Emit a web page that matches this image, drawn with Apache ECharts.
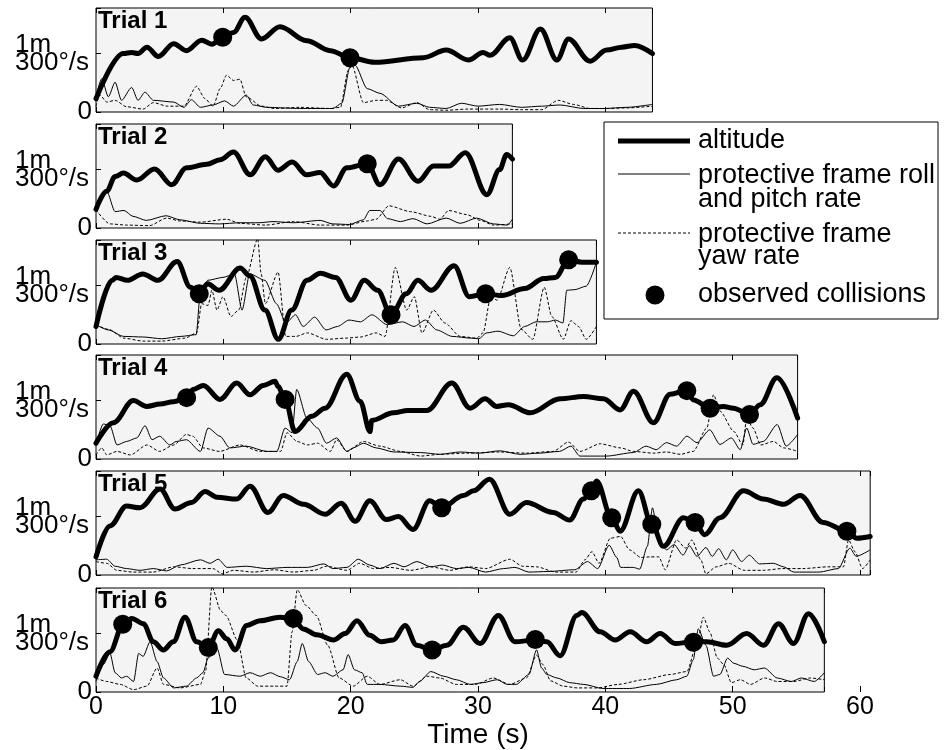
<!DOCTYPE html>
<html>
<head>
<meta charset="utf-8">
<script src="https://cdn.jsdelivr.net/npm/echarts@6/dist/echarts.min.js"></script>
<style>html,body{margin:0;padding:0;background:#fff}#chart{width:948px;height:750px}</style>
</head>
<body>
<div id="chart"></div>
<script>
// ---- data (time in s; altitude in m; rates in units of 300°/s) ----
const trialNames = ['Trial 1', 'Trial 2', 'Trial 3', 'Trial 4', 'Trial 5', 'Trial 6'];
const trialDurations = [43.7, 32.7, 39.3, 55.1, 60.8, 57.2];
const yTickLabels = ['0', '1m', '300°/s'];
const xAxisName = 'Time (s)';
const legendLabels = ['altitude', 'protective frame roll', 'and pitch rate', 'protective frame', 'yaw rate', 'observed collisions'];

const t1Altitude = [[0,0.23],[2.15,1.0],[2.8,1.02],[3.3,1.0],[4.0,1.11],[4.9,0.95],[6.1,1.17],[7.1,1.05],[8.3,1.23],[9.1,1.16],[9.95,1.28],[10.8,1.36],[11.7,1.62],[13.0,1.25],[14.45,1.46],[16.55,1.22],[18.4,1.05],[19.95,0.93],[21.9,0.85],[25.7,0.93],[27.5,1.06],[29.25,0.89],[30.4,1.02],[30.95,0.97],[32.5,1.27],[33.5,0.89],[34.9,1.42],[36.2,0.89],[37.1,1.25],[38.8,0.87],[40.1,1.06],[41.3,1.11],[42.3,1.14],[43.7,1.0]];
const t1Roll = [[0,0.26],[0.45,0.57],[0.97,0.26],[1.5,0.51],[2.0,0.2],[2.8,0.42],[3.3,0.2],[3.85,0.34],[4.5,0.2],[6.1,0.17],[6.9,0.08],[7.5,0.21],[8.2,0.08],[9.2,0.12],[10.1,0.19],[10.8,0.1],[11.8,0.29],[12.35,0.12],[13.4,0.08],[16.0,0.06],[18.6,0.06],[19.3,0.15],[19.95,0.77],[20.35,0.8],[21.3,0.4],[22.3,0.32],[23.75,0.1],[25.2,0.15],[26.2,0.08],[27.5,0.06],[28.7,0.15],[30.0,0.1],[31.7,0.13],[33.4,0.08],[35.0,0.1],[36.45,0.12],[38.3,0.06],[39.9,0.06],[41.7,0.08],[43.7,0.13]];
const t1Yaw = [[0,0.1],[0.3,0.29],[0.85,0.17],[1.5,0.2],[2.4,0.09],[3.7,0.05],[4.5,0.16],[5.6,0.1],[6.9,0.1],[7.9,0.44],[8.55,0.23],[9.2,0.1],[9.75,0.4],[10.25,0.63],[10.8,0.54],[11.3,0.56],[11.8,0.26],[13.0,0.1],[14.0,0.06],[16.0,0.08],[18.4,0.06],[19.2,0.08],[19.8,0.71],[20.1,0.8],[21.0,0.16],[22.0,0.2],[22.8,0.2],[24.0,0.07],[25.2,0.16],[26.2,0.04],[27.5,0.03],[29.2,0.05],[31.7,0.05],[33.4,0.04],[35.0,0.04],[36.3,0.2],[37.5,0.13],[38.8,0.06],[40.1,0.06],[41.7,0.07],[43.7,0.1]];
const t1Collisions = [[9.95,1.28],[19.95,0.93]];

const t2Altitude = [[0,0.32],[0.84,0.63],[1.5,0.88],[2.15,0.94],[3.2,0.82],[4.6,1.01],[5.95,0.74],[7.1,1.03],[8.7,1.09],[9.75,1.17],[10.8,1.3],[12.1,0.91],[13.3,1.22],[14.3,0.99],[15.4,1.13],[16.55,0.91],[17.6,0.95],[18.65,0.72],[19.7,1.03],[21.3,1.1],[22.3,0.74],[23.75,1.18],[25.3,0.8],[26.5,1.06],[27.7,1.06],[29.0,1.29],[30.7,0.57],[31.7,1.0],[32.25,1.26],[32.7,1.18]];
const t2Roll = [[0,0.34],[0.84,0.63],[1.5,0.28],[2.2,0.3],[2.9,0.2],[3.95,0.13],[5.5,0.21],[6.6,0.14],[8.2,0.08],[9.7,0.07],[11.3,0.09],[12.8,0.09],[13.9,0.11],[15.5,0.09],[17.6,0.13],[18.6,0.07],[19.9,0.06],[21.0,0.14],[21.5,0.3],[22.3,0.3],[22.9,0.16],[23.9,0.11],[24.9,0.16],[26.0,0.07],[27.5,0.17],[28.6,0.08],[29.9,0.17],[31.2,0.07],[32.3,0.05],[32.7,0.15]];
const t2Yaw = [[0,0.31],[1.1,0.07],[2.4,0.05],[4.2,0.04],[5.55,0.17],[6.6,0.12],[8.2,0.1],[10.25,0.15],[11.3,0.08],[13.3,0.05],[15.5,0.11],[17.6,0.05],[19.7,0.05],[21.3,0.12],[22.0,0.15],[23.0,0.38],[24.7,0.28],[26.3,0.2],[27.0,0.15],[27.7,0.3],[29.1,0.23],[30.2,0.13],[31.2,0.05],[32.7,0.07]];
const t2Collisions = [[21.3,1.1]];

const t3Altitude = [[0,0.3],[1.27,1.09],[1.58,1.14],[2.47,1.09],[3.67,1.2],[4.87,1.09],[6.37,1.41],[7.42,0.97],[8.11,0.86],[8.77,1.03],[9.67,0.92],[11.32,1.3],[12.07,1.17],[13.27,0.58],[14.32,0.08],[15.37,0.58],[16.57,1.09],[17.62,1.21],[18.82,1.14],[20.02,0.75],[21.07,1.09],[22.12,0.92],[23.17,0.5],[24.37,0.86],[25.27,1.09],[26.32,0.92],[28.12,1.34],[29.32,0.81],[30.6,0.86],[31.87,0.83],[33.67,0.95],[35.17,1.12],[36.07,1.14],[37.12,1.44],[38.17,1.4],[39.3,1.4]];
const t3Roll = [[0,0.33],[0.98,0.24],[2.18,0.13],[3.67,0.12],[5.17,0.09],[6.67,0.13],[7.87,0.16],[8.17,0.81],[8.77,1.09],[9.97,1.14],[10.87,1.2],[11.47,0.58],[12.07,1.2],[13.27,1.09],[14.17,0.69],[14.92,0.36],[15.67,0.5],[16.27,0.3],[17.17,0.46],[18.07,0.24],[18.97,0.3],[19.87,0.41],[20.77,0.38],[21.67,0.5],[22.87,0.33],[24.07,0.38],[24.97,0.3],[25.87,0.41],[26.77,0.24],[27.97,0.13],[29.47,0.1],[30.07,0.09],[30.67,0.19],[31.57,0.22],[32.77,0.14],[33.67,0.3],[34.57,0.38],[35.47,0.38],[36.07,0.41],[36.67,0.36],[36.97,0.92],[37.6,0.93],[38.5,0.99],[39.3,1.4]];
const t3Yaw = [[0,0.33],[1.0,0.25],[2.2,0.1],[3.7,0.05],[5.2,0.05],[7.0,0.1],[7.9,0.19],[8.3,0.69],[8.8,0.66],[9.1,0.92],[9.5,0.58],[9.97,0.81],[10.6,0.47],[11.2,0.58],[11.8,1.14],[12.7,1.8],[12.97,1.2],[13.3,0.69],[14.3,1.23],[14.9,0.13],[15.7,0.13],[16.6,0.19],[18.1,0.08],[19.6,0.1],[20.8,0.12],[22.0,0.19],[22.7,0.13],[23.5,1.31],[24.4,0.58],[25.0,0.81],[25.6,0.19],[26.5,0.58],[27.4,0.36],[28.6,0.13],[29.9,0.1],[30.4,0.19],[31.0,0.81],[31.5,0.75],[32.5,1.31],[33.4,0.25],[34.3,0.08],[35.2,0.97],[35.8,0.47],[36.7,0.08],[37.3,0.4],[37.9,0.3],[38.5,0.08],[39.3,0.3]];
const t3Collisions = [[8.11,0.86],[23.17,0.5],[30.6,0.86],[37.12,1.44]];

const t4Altitude = [[0,0.27],[1.36,0.62],[2.93,1.0],[3.98,0.9],[5.03,0.94],[6.07,0.98],[7.12,1.05],[7.64,1.19],[8.43,1.26],[9.74,1.02],[11.05,1.3],[12.1,1.1],[13.14,1.26],[14.06,1.33],[14.3,1.24],[14.85,1.02],[15.63,0.47],[16.94,0.73],[17.99,0.87],[19.69,1.45],[20.74,0.99],[21.52,0.47],[21.65,0.66],[23.36,0.79],[24.5,0.83],[25.98,0.83],[27.94,1.3],[29.38,0.87],[30.56,1.03],[31.47,0.9],[32.39,0.93],[34.1,0.79],[36.45,1.03],[38.28,1.07],[39.85,1.03],[41.16,0.84],[42.21,1.16],[43.78,0.62],[45.09,1.11],[46.4,1.17],[46.92,1.01],[48.23,0.87],[49.28,0.9],[50.06,0.87],[51.32,0.76],[52.16,0.93],[53.47,1.39],[55.1,0.7]];
const t4Roll = [[0,0.24],[0.57,0.6],[1.1,0.57],[1.65,0.24],[2.4,0.3],[3.2,0.36],[3.85,0.57],[4.4,0.33],[5.0,0.39],[5.8,0.24],[6.3,0.3],[7.1,0.33],[8.2,0.13],[8.8,0.53],[9.74,0.39],[10.5,0.19],[11.8,0.22],[13.4,0.13],[14.2,0.13],[14.85,0.53],[15.4,0.45],[15.76,1.19],[16.56,0.7],[17.4,0.53],[18.1,0.27],[18.9,0.36],[19.7,0.13],[20.2,0.19],[21.0,0.27],[22.0,0.19],[23.4,0.12],[25.5,0.11],[27.0,0.08],[28.6,0.12],[30.1,0.1],[31.7,0.14],[33.3,0.08],[34.8,0.1],[36.4,0.13],[37.3,0.22],[38.0,0.05],[40.1,0.05],[42.2,0.11],[43.2,0.22],[44.0,0.16],[44.8,0.28],[45.6,0.22],[46.4,0.39],[47.2,0.28],[48.2,0.5],[49.0,0.25],[49.9,0.36],[50.6,0.16],[51.1,0.53],[51.6,0.25],[52.4,0.3],[53.5,0.59],[54.2,0.22],[55.1,0.42]];
const t4Yaw = [[0,0.07],[0.45,0.19],[0.85,0.07],[1.65,0.13],[2.7,0.07],[4.0,0.24],[5.0,0.13],[6.1,0.24],[7.1,0.42],[7.6,0.39],[8.4,0.19],[9.7,0.13],[11.3,0.24],[12.9,0.13],[14.5,0.13],[15.0,0.45],[15.8,0.3],[16.6,0.24],[17.4,0.27],[18.4,0.13],[18.9,0.33],[19.7,0.13],[21.0,0.3],[22.3,0.22],[23.9,0.13],[25.5,0.05],[27.0,0.08],[29.1,0.1],[31.7,0.12],[33.8,0.1],[35.9,0.13],[37.1,0.29],[38.0,0.13],[39.6,0.26],[41.2,0.19],[42.2,0.13],[43.8,0.1],[44.8,0.12],[45.9,0.08],[46.9,0.13],[47.97,0.53],[48.5,1.1],[49.0,0.82],[50.1,0.47],[50.8,0.24],[51.1,0.7],[51.6,0.53],[52.2,0.24],[53.2,0.3],[54.0,0.19],[55.1,0.13]];
const t4Collisions = [[7.12,1.05],[14.85,1.02],[46.4,1.17],[48.23,0.87],[51.32,0.76]];

const t5Altitude = [[0,0.31],[1.1,0.84],[2.4,1.18],[3.45,1.15],[5.03,1.47],[6.2,1.13],[7.5,1.24],[8.56,1.43],[9.5,1.33],[11.05,1.3],[12.1,1.52],[13.5,1.07],[14.7,1.36],[16.3,1.21],[18.0,1.04],[19.25,1.23],[20.35,0.92],[21.5,1.27],[22.8,0.95],[23.75,1.0],[24.9,0.78],[26.2,1.27],[27.15,1.15],[28.85,1.36],[29.64,1.44],[30.9,1.64],[32.5,1.04],[33.8,1.24],[35.9,1.07],[37.2,0.94],[38.28,1.3],[38.9,1.44],[39.3,1.61],[40.5,0.98],[41.16,0.75],[42.6,1.44],[43.65,0.87],[44.56,0.49],[46.14,0.98],[47.05,0.9],[47.8,0.69],[49.0,0.98],[50.85,1.44],[52.4,1.3],[54.0,1.21],[55.3,1.36],[57.1,0.9],[58.97,0.75],[59.75,0.63],[60.8,0.66]];
const t5Roll = [[0,0.26],[0.84,0.27],[1.5,0.15],[2.4,0.11],[3.45,0.08],[4.5,0.11],[5.55,0.07],[6.6,0.17],[8.2,0.26],[8.95,0.2],[9.6,0.27],[10.3,0.13],[11.8,0.15],[13.4,0.11],[15.0,0.13],[16.6,0.13],[17.9,0.19],[18.6,0.11],[19.7,0.13],[20.6,0.27],[21.5,0.17],[22.3,0.11],[23.4,0.2],[24.2,0.14],[25.2,0.23],[26.3,0.14],[27.2,0.17],[28.3,0.11],[29.3,0.13],[30.6,0.05],[32.0,0.11],[32.9,0.13],[34.0,0.05],[35.5,0.06],[37.6,0.09],[38.6,0.23],[39.4,0.11],[40.3,0.51],[40.9,0.3],[41.2,0.13],[42.2,0.13],[42.7,0.1],[43.3,0.49],[43.7,1.15],[44.2,0.6],[44.8,0.43],[45.4,0.52],[46.1,0.34],[46.6,0.5],[47.2,0.32],[47.9,0.47],[48.4,0.32],[48.9,0.45],[49.5,0.26],[50.0,0.43],[50.7,0.23],[51.3,0.34],[52.1,0.19],[53.2,0.2],[54.0,0.14],[54.8,0.05],[56.8,0.05],[58.3,0.11],[59.2,0.46],[59.7,0.32],[60.8,0.43]];
const t5Yaw = [[0,0.23],[0.84,0.2],[1.65,0.08],[2.9,0.05],[4.5,0.05],[6.1,0.14],[7.6,0.11],[9.2,0.11],[9.9,0.02],[10.8,0.08],[12.4,0.05],[14.0,0.09],[15.5,0.05],[17.1,0.08],[18.1,0.15],[19.7,0.08],[20.7,0.2],[21.8,0.11],[23.1,0.13],[24.7,0.08],[26.3,0.14],[27.8,0.08],[29.3,0.14],[30.6,0.11],[32.5,0.27],[33.5,0.15],[34.6,0.14],[36.1,0.05],[37.7,0.05],[38.4,0.26],[38.95,0.4],[39.5,0.2],[40.4,0.63],[41.2,0.66],[41.9,0.43],[42.8,0.3],[43.5,0.31],[44.2,0.31],[44.7,0.09],[45.6,0.6],[46.3,0.46],[46.8,0.6],[47.5,0.26],[47.9,0.02],[48.7,0.14],[49.7,0.2],[50.9,0.08],[52.4,0.08],[53.9,0.11],[55.5,0.11],[57.5,0.14],[58.7,0.14],[59.1,0.6],[59.6,0.4],[60.2,0.11],[60.8,0.26]];
const t5Collisions = [[27.15,1.15],[38.9,1.44],[40.5,0.98],[43.65,0.87],[47.05,0.9],[58.97,0.75]];

const t6Altitude = [[0,0.27],[1.1,0.69],[2.1,1.14],[2.8,1.26],[3.72,1.17],[4.5,0.86],[5.29,0.72],[6.07,0.86],[6.99,1.28],[7.91,0.86],[8.82,0.76],[9.61,1.05],[10.27,0.91],[10.92,0.72],[11.84,1.14],[12.88,1.22],[14.45,1.28],[15.5,1.25],[16.28,1.08],[17.34,0.98],[18.64,0.89],[19.56,1.0],[20.5,1.22],[21.5,0.97],[22.4,0.86],[23.35,0.89],[24.27,1.14],[25.19,0.8],[26.4,0.72],[27.55,0.8],[28.85,1.11],[30.17,0.83],[31.6,1.31],[32.9,0.86],[34.5,0.89],[35.4,0.86],[36.45,0.62],[37.76,1.31],[38.15,1.36],[39.6,1.03],[40.77,0.89],[41.95,1.03],[43.26,0.86],[44.3,1.0],[45.48,0.83],[46.92,0.86],[47.97,0.86],[49.54,0.8],[51.1,1.0],[52.42,0.8],[53.6,1.17],[54.78,0.83],[55.95,1.34],[57.2,0.86]];
const t6Roll = [[0,0.18],[0.57,0.47],[1.1,0.66],[1.5,0.33],[2.0,0.24],[2.4,0.27],[2.95,0.18],[3.35,0.66],[3.7,0.61],[4.25,0.86],[4.8,0.52],[5.3,0.24],[6.1,0.07],[7.1,0.1],[7.9,0.24],[8.4,0.33],[8.8,0.58],[9.5,0.75],[10.1,0.3],[11.3,0.27],[12.1,0.33],[12.9,0.27],[13.7,0.33],[14.5,0.26],[15.2,0.21],[15.8,0.52],[16.2,0.83],[16.7,0.52],[17.4,0.3],[18.0,0.33],[18.6,0.27],[19.4,0.38],[19.8,0.64],[20.3,0.38],[20.9,0.33],[21.3,0.13],[22.3,0.13],[23.9,0.1],[24.9,0.08],[25.4,0.18],[26.3,0.35],[27.3,0.27],[28.3,0.21],[29.4,0.13],[30.4,0.16],[31.5,0.21],[32.3,0.13],[33.0,0.13],[34.0,0.3],[34.6,0.72],[35.0,0.41],[35.4,0.3],[36.2,0.24],[37.2,0.16],[38.3,0.13],[39.8,0.06],[41.9,0.06],[44.0,0.13],[45.6,0.21],[46.4,0.27],[46.9,0.55],[47.3,1.08],[47.9,0.8],[48.5,0.27],[49.0,0.3],[49.6,0.58],[50.1,0.49],[50.8,0.44],[51.7,0.38],[52.5,0.41],[53.5,0.24],[54.6,0.18],[55.4,0.24],[56.4,0.18],[57.2,0.33]];
const t6Yaw = [[0,0.24],[0.84,0.18],[1.9,0.13],[2.95,0.04],[4.0,0.1],[4.8,0.41],[5.3,0.13],[6.6,0.07],[8.2,0.13],[8.6,0.35],[9.1,1.8],[9.8,1.39],[10.2,1.31],[11.1,0.89],[11.8,0.24],[12.7,0.1],[14.0,0.1],[15.0,0.1],[15.4,1.03],[15.8,1.75],[16.5,1.48],[17.3,1.31],[18.2,0.8],[19.1,0.24],[20.2,0.1],[21.3,0.27],[22.3,0.13],[23.9,0.21],[24.9,0.1],[26.0,0.27],[27.0,0.24],[28.3,0.13],[29.8,0.13],[31.2,0.24],[32.5,0.13],[33.8,0.24],[34.6,0.63],[35.1,0.47],[35.7,0.19],[36.7,0.1],[37.8,0.07],[39.4,0.07],[41.0,0.13],[43.0,0.21],[45.1,0.3],[46.4,0.35],[47.2,0.83],[47.7,1.28],[48.2,1.03],[48.8,0.58],[49.3,0.47],[49.9,0.16],[50.6,0.21],[51.4,0.13],[52.5,0.24],[53.5,0.18],[54.8,0.18],[56.1,0.24],[57.2,0.21]];
const t6Collisions = [[2.1,1.16],[8.82,0.76],[15.5,1.26],[26.4,0.72],[34.5,0.9],[46.92,0.85]];

const altitudeData = [t1Altitude, t2Altitude, t3Altitude, t4Altitude, t5Altitude, t6Altitude];
const rollData = [t1Roll, t2Roll, t3Roll, t4Roll, t5Roll, t6Roll];
const yawData = [t1Yaw, t2Yaw, t3Yaw, t4Yaw, t5Yaw, t6Yaw];
const collisionData = [t1Collisions, t2Collisions, t3Collisions, t4Collisions, t5Collisions, t6Collisions];

// ---- layout ----
const FONT = "'Liberation Sans', Arial, Helvetica, sans-serif";
const PLOT_LEFT = 96, FULL_WIDTH = 764, X_FULL = 60;
const PX_PER_S = FULL_WIDTH / X_FULL;
const GRID_TOPS = [8, 124, 240, 355, 471, 588];
const GRID_H = 104;
const Y_MAX = 1.78;

const grids = [], xAxes = [], yAxes = [], series = [], titles = [];
trialNames.forEach((name, i) => {
  grids.push({left: PLOT_LEFT, top: GRID_TOPS[i], width: trialDurations[i] * PX_PER_S, height: GRID_H,
    show: true, backgroundColor: '#f4f4f4', borderColor: '#000', borderWidth: 1});
  const xBase = {gridIndex: i, type: 'value', min: 0, max: trialDurations[i], interval: 10,
    axisLine: {show: false}, axisLabel: {show: false}, splitLine: {show: false},
    axisTick: {inside: true, length: 5, lineStyle: {color: '#000', width: 1}}};
  xAxes.push(Object.assign({}, xBase, {position: 'bottom'}));
  xAxes.push(Object.assign({}, xBase, {position: 'top'}));
  yAxes.push({gridIndex: i, type: 'value', min: 0, max: Y_MAX, interval: 1,
    axisLine: {show: false}, splitLine: {show: false},
    axisTick: {inside: true, length: 5, lineStyle: {color: '#000', width: 1}},
    axisLabel: {margin: 4, color: '#000', fontSize: 26, fontFamily: FONT,
      formatter: v => v === 0 ? yTickLabels[0] : (v === 1 ? '{a|' + yTickLabels[1] + '}\n{a|' + yTickLabels[2] + '}' : ''),
      rich: {a: {fontSize: 26, fontFamily: FONT, color: '#000', width: 77, align: 'left', lineHeight: 18}}}});
  titles.push({text: name, left: PLOT_LEFT + 2, top: GRID_TOPS[i] + 1, padding: 0,
    textStyle: {fontSize: 24, fontWeight: 'bold', fontFamily: FONT, color: '#000'}});
  series.push({type: 'line', name: 'roll', xAxisIndex: 2 * i, yAxisIndex: i, data: rollData[i],
    symbol: 'none', smooth: 0.25, smoothMonotone: 'x', lineStyle: {color: '#000', width: 1}, z: 2});
  series.push({type: 'line', name: 'yaw', xAxisIndex: 2 * i, yAxisIndex: i, data: yawData[i],
    symbol: 'none', smooth: 0.25, smoothMonotone: 'x', lineStyle: {color: '#000', width: 1, type: [3, 2]}, z: 2});
  series.push({type: 'line', name: 'altitude', xAxisIndex: 2 * i, yAxisIndex: i, data: altitudeData[i],
    symbol: 'none', smooth: 0.35, smoothMonotone: 'x', lineStyle: {color: '#000', width: 5, join: 'round', cap: 'round'}, z: 3});
  series.push({type: 'scatter', name: 'collisions', xAxisIndex: 2 * i, yAxisIndex: i, data: collisionData[i],
    symbol: 'circle', symbolSize: 19, itemStyle: {color: '#000', opacity: 1}, z: 4});
});
// shared time axis with labels
grids.push({left: PLOT_LEFT, top: GRID_TOPS[5] + GRID_H - 1, width: FULL_WIDTH, height: 1, show: false});
xAxes.push({gridIndex: 6, type: 'value', min: 0, max: X_FULL, interval: 10, position: 'bottom',
  axisLine: {show: false}, splitLine: {show: false},
  axisTick: {inside: true, length: 6, lineStyle: {color: '#000'}},
  axisLabel: {margin: 3, color: '#000', fontSize: 25, fontFamily: FONT},
  name: xAxisName, nameLocation: 'middle', nameGap: 27,
  nameTextStyle: {fontSize: 28, fontFamily: FONT, color: '#000'}});
yAxes.push({gridIndex: 6, type: 'value', show: false});

// legend box
const LX = 604, LY = 122;
const lt = (txt, y) => ({type: 'text', x: 698, y: y, z: 100,
  style: {text: txt, fontSize: 27, fontFamily: FONT, fill: '#000', verticalAlign: 'middle'}});
const graphic = [
  {type: 'rect', z: 99, shape: {x: LX, y: LY, width: 334, height: 197}, style: {fill: '#fff', stroke: '#000', lineWidth: 1}},
  {type: 'line', z: 100, shape: {x1: 618, y1: 141, x2: 690, y2: 141}, style: {stroke: '#000', lineWidth: 5}},
  lt(legendLabels[0], 141),
  {type: 'line', z: 100, shape: {x1: 618, y1: 174, x2: 690, y2: 174}, style: {stroke: '#000', lineWidth: 1}},
  lt(legendLabels[1], 176),
  lt(legendLabels[2], 200),
  {type: 'line', z: 100, shape: {x1: 618, y1: 233, x2: 690, y2: 233}, style: {stroke: '#000', lineWidth: 1, lineDash: [3, 2]}},
  lt(legendLabels[3], 235),
  lt(legendLabels[4], 257),
  {type: 'circle', z: 100, shape: {cx: 655, cy: 295, r: 9.5}, style: {fill: '#000'}},
  lt(legendLabels[5], 295)
];

const chart = echarts.init(document.getElementById('chart'), null, {renderer: 'canvas'});
chart.setOption({
  animation: false,
  backgroundColor: '#fff',
  title: titles,
  grid: grids,
  xAxis: xAxes,
  yAxis: yAxes,
  series: series,
  graphic: graphic
});
</script>
</body>
</html>
